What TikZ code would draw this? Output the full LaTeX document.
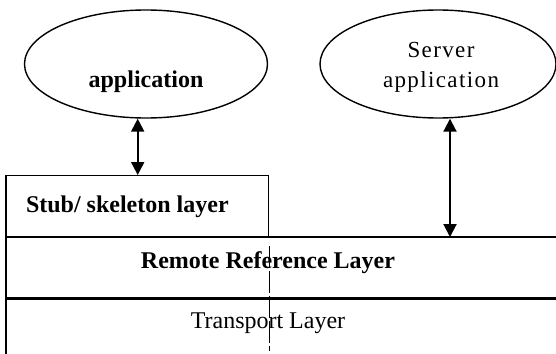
\documentclass[tikz,border=0pt]{standalone}
\usepackage{fontspec}
\setmainfont{Liberation Serif}
\newfontfamily\spacedserif[LetterSpace=6]{Liberation Serif}
\usetikzlibrary{arrows.meta,shapes,positioning}

\begin{document}
\begin{tikzpicture}[x=1pt,y=-1pt,line width=1.4pt,
    bubble/.style={draw,ellipse,minimum width=243pt,minimum height=108pt,inner sep=0pt},
    layertext/.style={font=\fontsize{24}{26}\selectfont\bfseries},
    band/.style={minimum width=550pt,anchor=north west,inner sep=0pt},
    dbl/.style={{Triangle[length=13pt,width=13pt]}-{Triangle[length=13pt,width=13pt]},line width=2pt}]
  \useasboundingbox (0,0) rectangle (556,353);
  \node [bubble] (client) at (146,64) {};
  \node [layertext] (clienttext) at (146,82) {application};
  \node [bubble,minimum width=236pt] (server) at (438,64) {};
  \node [font=\fontsize{23}{30}\spacedserif,align=center] (servertext) at (441,67) {Server\\application};
  \node [draw,minimum width=262pt,minimum height=62pt,anchor=north west,inner sep=0pt] (stub) at (6,175) {};
  \node [layertext,anchor=west] (stubtext) at (22,207) {Stub/ skeleton layer};
  \node [band,minimum height=60pt] (remote) at (6,237) {};
  \node [band,minimum height=56pt] (transport) at (6,297) {};
  \node [layertext] (remotetext) at (268,263) {Remote Reference Layer};
  \node [font=\fontsize{24}{26}\selectfont] (transporttext) at (268,323) {Transport Layer};
  \draw (remote.north west) -- (remote.north east);
  \draw [line width=2pt] (stub.north west) -- (transport.south west);
  \draw [line width=3pt] (remote.south west) -- (remote.south east);
  \draw [dash pattern=on 22pt off 3pt] ([yshift=-8pt]stub.south east) -- ([yshift=3pt]stub.south east |- transport.south);
  \coordinate (srvtip) at (450,237);
  \draw [dbl] (stub.north |- client.south) -- (stub.north);
  \draw [dbl] (srvtip |- server.south) -- (srvtip);
\end{tikzpicture}
\end{document}
